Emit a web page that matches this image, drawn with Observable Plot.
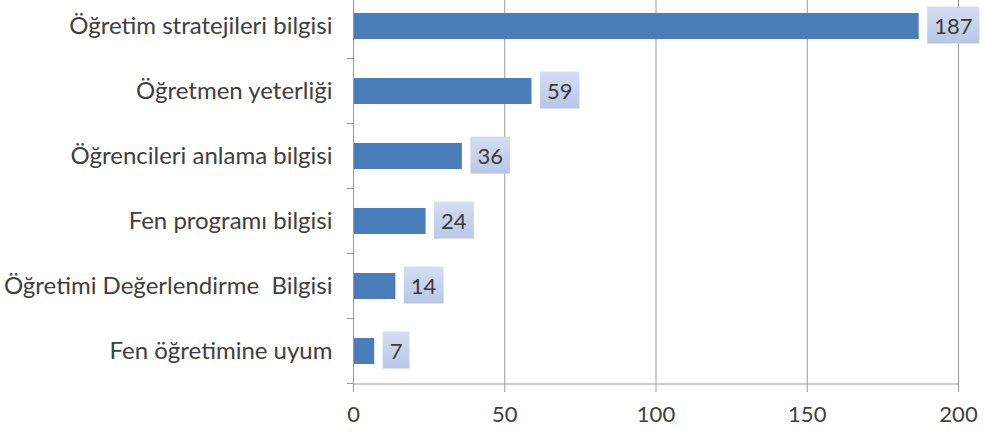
<!DOCTYPE html>
<html><head><meta charset="utf-8">
<script src="https://cdn.jsdelivr.net/npm/d3@7"></script>
<script src="https://cdn.jsdelivr.net/npm/@observablehq/plot@0.6"></script>
<style>
body{margin:0;background:#fff;}
svg{font-family:Lato,"Open Sans",sans-serif;}
</style>
</head><body>
<div id="chart"></div>
<script>
const categories = ["Öğretim stratejileri bilgisi","Öğretmen yeterliği","Öğrencileri anlama bilgisi","Fen programı bilgisi","Öğretimi Değerlendirme  Bilgisi","Fen öğretimine uyum"];
const values = [187, 59, 36, 24, 14, 7];
const xTicks = [0, 50, 100, 150, 200];
const data = categories.map((c, i) => ({category: c, value: values[i]}));

const plot = Plot.plot({
  width: 984, height: 434,
  marginLeft: 353, marginRight: 26, marginTop: 0, marginBottom: 50,
  style: {fontFamily: "Lato, 'Open Sans', sans-serif", fontSize: "22px", color: "#404040", background: "#fff"},
  x: {domain: [0, 200], ticks: xTicks, label: null},
  y: {domain: categories, range: [-8, 384], paddingInner: 0.6, paddingOuter: 0.3, label: null},
  marks: [
    Plot.ruleX(xTicks.slice(1), {stroke: "#9a9a9a", strokeWidth: 1}),
    Plot.barX(data, {y: "category", x: "value", fill: "#4a7ebb"}),
    Plot.ruleX([0], {stroke: "#9a9a9a", strokeWidth: 1}),
    Plot.text(data, {y: "category", x: "value", text: d => String(d.value), textAnchor: "start", dx: 15, fill: "#3a3a3a", fontSize: 22, className: "vlabel"}),
    Plot.axisX({ticks: xTicks, tickSize: 8, tickPadding: 14, stroke: "#9a9a9a", fill: "#404040", fontSize: 22}),
    Plot.axisY({tickSize: 0, tickPadding: 21, fill: "#404040", fontSize: 24})
  ]
});
document.getElementById("chart").appendChild(plot);

// decorations driven by the library's scales
const svg = d3.select(plot);
const xs = plot.scale("x"), ys = plot.scale("y");
const x0 = xs.apply(0), x1 = xs.apply(200);
const yBottom = ys.range[1];
const step = ys.step;
svg.append("line").attr("x1", x0).attr("x2", x1).attr("y1", yBottom).attr("y2", yBottom).attr("stroke", "#9a9a9a");
categories.forEach(c => {
  const yb = ys.apply(c) + ys.bandwidth + (step - ys.bandwidth) / 2;
  svg.append("line").attr("x1", x0 - 6).attr("x2", x0).attr("y1", yb).attr("y2", yb).attr("stroke", "#9a9a9a");
});
const defs = svg.insert("defs", ":first-child");
const g = defs.append("linearGradient").attr("id", "lbg").attr("x1", 0).attr("y1", 0).attr("x2", 0).attr("y2", 1);
g.append("stop").attr("offset", "0%").attr("stop-color", "#d4def1");
g.append("stop").attr("offset", "100%").attr("stop-color", "#b7c7e6");
const texts = plot.querySelectorAll(".vlabel text");
const svgEl = plot;
texts.forEach(t => {
  const bb = t.getBoundingClientRect();
  const sb = svgEl.getBoundingClientRect();
  const r = document.createElementNS("http://www.w3.org/2000/svg", "rect");
  r.setAttribute("x", bb.left - sb.left - 7);
  r.setAttribute("y", bb.top - sb.top - 5);
  r.setAttribute("width", bb.width + 14);
  r.setAttribute("height", bb.height + 10);
  r.setAttribute("fill", "url(#lbg)");
  svgEl.insertBefore(r, t.parentNode);
});
</script>
</body></html>
